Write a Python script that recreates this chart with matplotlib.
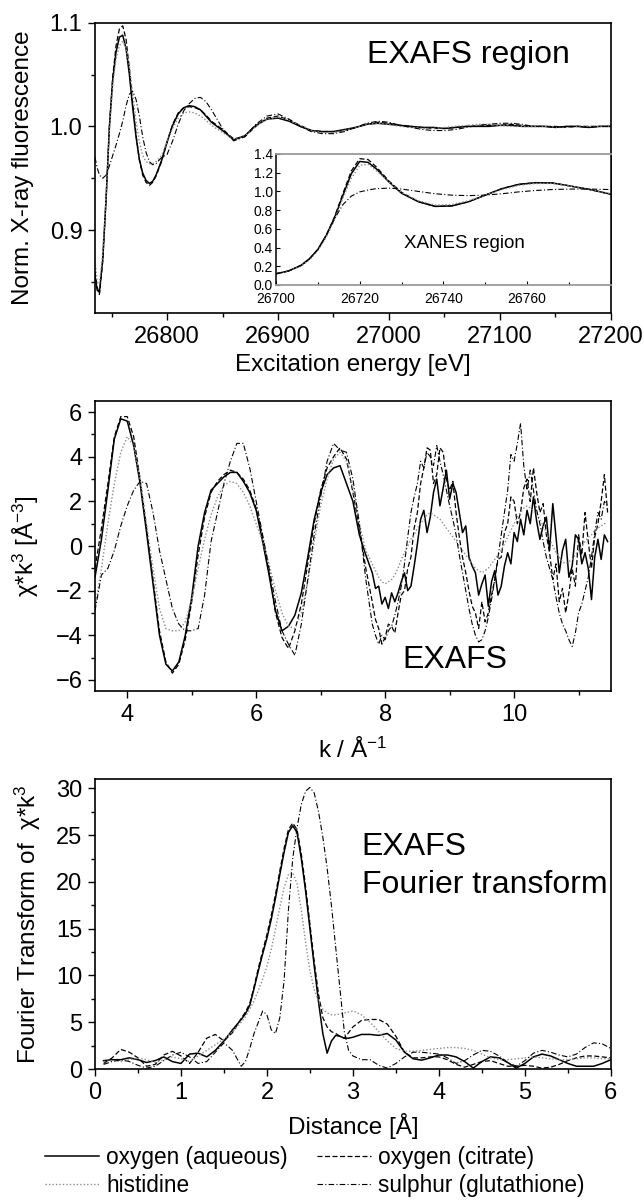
from __future__ import annotations

import matplotlib

matplotlib.use("Agg")
import matplotlib.pyplot as plt
from matplotlib.lines import Line2D
from matplotlib.ticker import FixedLocator, FormatStrFormatter, MultipleLocator

# --- top panel: normalised fluorescence vs excitation energy [eV] ---
energy = [
    26735, 26737, 26739, 26742, 26745, 26748, 26751, 26754, 26757, 26760,
    26763, 26766, 26769, 26772, 26775, 26778, 26781, 26784, 26787, 26790,
    26795, 26800, 26805, 26810, 26815, 26820, 26825, 26830, 26835, 26840,
    26850, 26860, 26870, 26880, 26890, 26900, 26910, 26920, 26930, 26940,
    26950, 26960, 26970, 26980, 26990, 27000, 27010, 27020, 27030, 27040,
    27050, 27060, 27070, 27080, 27090, 27100, 27110, 27120, 27130, 27140,
    27150, 27160, 27170, 27180, 27190, 27200,
]
fluo_aqueous = [
    0.856, 0.842, 0.840, 0.872, 0.930, 1.000, 1.045, 1.072, 1.086, 1.088,
    1.075, 1.050, 1.018, 0.990, 0.968, 0.955, 0.948, 0.945, 0.947, 0.953,
    0.967, 0.985, 1.001, 1.012, 1.018, 1.020, 1.019, 1.016, 1.010, 1.004,
    0.996, 0.987, 0.991, 1.001, 1.007, 1.008, 1.005, 1.000, 0.996, 0.995,
    0.995, 0.997, 0.999, 1.002, 1.003, 1.002, 1.001, 1.000, 0.999, 0.999,
    0.998, 0.999, 1.000, 1.000, 1.000, 1.001, 1.001, 1.000, 1.000, 1.000,
    0.999, 1.000, 1.000, 0.999, 1.000, 1.000,
]
fluo_citrate = [
    0.860, 0.845, 0.838, 0.870, 0.930, 1.000, 1.048, 1.078, 1.094, 1.097,
    1.084, 1.056, 1.022, 0.992, 0.968, 0.953, 0.946, 0.943, 0.946, 0.952,
    0.966, 0.985, 1.002, 1.013, 1.018, 1.019, 1.018, 1.016, 1.011, 1.005,
    0.997, 0.988, 0.990, 1.000, 1.008, 1.010, 1.006, 1.001, 0.996, 0.995,
    0.995, 0.996, 0.999, 1.002, 1.004, 1.003, 1.001, 1.000, 0.999, 0.998,
    0.998, 0.999, 1.000, 1.000, 1.001, 1.001, 1.002, 1.001, 1.000, 1.000,
    1.000, 0.999, 1.000, 1.000, 1.000, 1.000,
]
fluo_histidine = [
    0.870, 0.850, 0.848, 0.878, 0.932, 0.995, 1.040, 1.065, 1.078, 1.082,
    1.076, 1.058, 1.032, 1.005, 0.985, 0.972, 0.966, 0.964, 0.964, 0.966,
    0.972, 0.985, 0.998, 1.008, 1.013, 1.014, 1.013, 1.010, 1.006, 1.001,
    0.994, 0.988, 0.991, 1.000, 1.007, 1.009, 1.006, 1.001, 0.996, 0.994,
    0.994, 0.996, 0.999, 1.002, 1.003, 1.002, 1.000, 0.999, 0.998, 0.998,
    0.999, 1.000, 1.001, 1.002, 1.002, 1.001, 1.000, 1.000, 1.000, 1.000,
    0.999, 0.999, 1.000, 1.000, 1.000, 1.000,
]
fluo_glutathione = [
    0.970, 0.960, 0.953, 0.950, 0.953, 0.962, 0.972, 0.982, 0.993, 1.005,
    1.020, 1.031, 1.034, 1.026, 1.010, 0.990, 0.975, 0.966, 0.963, 0.964,
    0.970, 0.973, 0.986, 1.002, 1.015, 1.022, 1.027, 1.028, 1.024, 1.016,
    0.998, 0.986, 0.990, 1.002, 1.010, 1.012, 1.007, 1.000, 0.995, 0.993,
    0.993, 0.995, 0.999, 1.003, 1.005, 1.004, 1.001, 0.999, 0.997, 0.996,
    0.996, 0.997, 0.999, 1.001, 1.002, 1.003, 1.003, 1.002, 1.000, 1.000,
    0.999, 1.000, 1.000, 0.999, 1.000, 1.000,
]

# --- inset: XANES region ---
xanes_energy = [
    26700, 26703, 26706, 26708, 26710, 26712, 26714, 26716, 26718, 26720,
    26722, 26724, 26727, 26730, 26734, 26738, 26742, 26746, 26750, 26754,
    26758, 26762, 26766, 26770, 26775, 26780,
]
xanes_aqueous = [
    0.12, 0.15, 0.21, 0.28, 0.38, 0.53, 0.72, 0.96, 1.19, 1.32,
    1.31, 1.24, 1.10, 0.98, 0.89, 0.84, 0.845, 0.89, 0.96, 1.03,
    1.075, 1.093, 1.09, 1.06, 1.02, 0.97,
]
xanes_citrate = [
    0.12, 0.15, 0.21, 0.28, 0.38, 0.53, 0.73, 0.98, 1.22, 1.35,
    1.34, 1.26, 1.11, 0.99, 0.89, 0.84, 0.845, 0.89, 0.96, 1.03,
    1.075, 1.093, 1.09, 1.06, 1.02, 0.97,
]
xanes_histidine = [
    0.12, 0.15, 0.20, 0.27, 0.37, 0.51, 0.70, 0.93, 1.14, 1.28,
    1.29, 1.22, 1.10, 0.99, 0.90, 0.855, 0.86, 0.90, 0.96, 1.02,
    1.065, 1.085, 1.085, 1.06, 1.02, 0.975,
]
xanes_glutathione = [
    0.12, 0.15, 0.21, 0.28, 0.38, 0.53, 0.71, 0.86, 0.95, 0.995,
    1.015, 1.03, 1.035, 1.025, 1.0, 0.975, 0.96, 0.955, 0.96, 0.975,
    0.995, 1.01, 1.02, 1.025, 1.025, 1.02,
]
xanes_ticks = [26700, 26720, 26740, 26760]

# --- middle panel: chi*k^3 vs k (coarse below 7.8, finer above) ---
k_low = [
    3.5, 3.6, 3.7, 3.8, 3.9, 4.0, 4.1, 4.2, 4.3, 4.4,
    4.5, 4.6, 4.7, 4.8, 4.9, 5.0, 5.1, 5.2, 5.3, 5.4,
    5.5, 5.6, 5.7, 5.8, 5.9, 6.0, 6.1, 6.2, 6.3, 6.4,
    6.5, 6.6, 6.7, 6.8, 6.9, 7.0, 7.1, 7.2, 7.3, 7.4,
    7.5, 7.6, 7.7,
]
k_high = [
    7.8, 7.85, 7.9, 7.95, 8.0, 8.05, 8.1, 8.15, 8.2, 8.25,
    8.3, 8.35, 8.4, 8.45, 8.5, 8.55, 8.6, 8.65, 8.7, 8.75,
    8.8, 8.85, 8.9, 8.95, 9.0, 9.05, 9.1, 9.15, 9.2, 9.25,
    9.3, 9.35, 9.4, 9.45, 9.5, 9.55, 9.6, 9.65, 9.7, 9.75,
    9.8, 9.85, 9.9, 9.95, 10.0, 10.05, 10.1, 10.15, 10.2, 10.25,
    10.3, 10.35, 10.4, 10.45, 10.5, 10.55, 10.6, 10.65, 10.7, 10.75,
    10.8, 10.85, 10.9, 10.95, 11.0, 11.05, 11.1, 11.15, 11.2, 11.25,
    11.3, 11.35, 11.4, 11.45,
]
k_values = k_low + k_high
chi_aqueous = [
    -1.4, 0.3, 2.5, 4.8, 5.7, 5.6, 4.5, 2.8, 0.6, -1.7,
    -4.0, -5.3, -5.6, -5.2, -4.0, -2.3, 0.0, 1.5, 2.5, 2.8,
    3.1, 3.3, 3.3, 2.9, 2.4, 1.6, 0.2, -1.3, -2.9, -3.8,
    -3.6, -3.1, -2.1, -0.5, 1.2, 2.4, 3.2, 3.5, 3.6, 2.8,
    2.0, 0.5, -0.4,
    -1.2, -1.9, -1.8, -2.6, -2.3, -2.8, -2.1, -2.5, -2.1, -1.6,
    -1.2, -2.0, -1.8, -0.9, 0.1, 1.2, 1.6, 0.6, 1.3, 2.4,
    3.0, 1.8, 2.6, 3.4, 2.1, 2.8, 2.4, 1.5, 0.6, 0.9,
    -0.5, -0.9, -1.2, -2.2, -1.7, -1.3, -2.7, -1.6, -1.1, -2.2,
    -1.8, -0.9, -0.3, -0.8, 0.6, 0.2, 1.2, 0.5, 1.6, 1.0,
    2.2, 1.1, 0.3, 0.9, 1.3, -0.2, 1.9, 0.4, -1.2, -0.2,
    0.3, -1.4, -0.9, 0.5, 0.3, -0.8, -0.3, -1.0, -2.4, -0.5,
    0.3, -0.6, 0.5, 0.2,
]
chi_citrate = [
    -1.0, 0.8, 2.8, 4.9, 5.8, 5.8, 4.9, 3.0, 0.8, -1.5,
    -3.8, -5.2, -5.7, -5.3, -4.2, -2.5, -0.4, 1.3, 2.4, 2.9,
    3.2, 3.4, 3.3, 3.0, 2.5, 1.7, 0.4, -1.2, -3.0, -4.1,
    -4.6, -3.8, -2.6, -0.8, 1.0, 2.5, 3.5, 4.0, 4.4, 3.9,
    2.4, 0.8, -1.0,
    -2.5, -3.3, -3.7, -4.4, -4.1, -3.5, -3.6, -3.9, -3.0, -2.2,
    -2.0, -1.0, -0.5, 0.8, 1.5, 2.8, 3.5, 4.4, 4.3, 2.8,
    3.2, 4.4, 4.2, 3.0, 2.5, 2.9, 1.5, 0.4, -0.5, -1.2,
    -2.0, -2.7, -3.0, -3.7, -2.5, -3.4, -3.0, -2.2, -1.5, -0.6,
    -0.5, 0.6, 1.0, 2.2, 2.0, 1.0, 1.5, 2.6, 3.0, 2.0,
    3.5, 2.4, 1.5, 1.9, 0.5, -0.3, -1.5, -0.8, -2.5, -1.9,
    -3.0, -2.1, -1.0, -1.8, 0.5, -0.4, 1.5, 0.2, -1.0, 0.4,
    1.0, 2.0, 3.2, 1.5,
]
chi_histidine = [
    -2.8, -1.0, 1.0, 2.8, 4.2, 4.9, 4.5, 3.0, 1.0, -1.0,
    -2.8, -3.7, -3.8, -3.8, -3.4, -2.4, -1.0, 0.3, 1.4, 2.2,
    2.7, 2.9, 2.8, 2.4, 1.8, 1.0, 0.2, -0.8, -2.0, -3.0,
    -3.6, -3.7, -3.0, -1.6, 0.2, 1.8, 3.0, 3.9, 4.2, 3.8,
    2.6, 1.0, -0.2,
    -0.8, -1.1, -1.4, -1.6, -1.7, -1.6, -1.5, -1.3, -1.0, -0.6,
    -0.3, 0.0, 0.3, 0.5, 0.8, 1.0, 1.2, 1.4, 1.5, 1.4,
    1.3, 1.2, 1.0, 0.8, 0.6, 0.4, 0.2, 0.0, -0.2, -0.4,
    -0.6, -0.8, -1.0, -1.1, -1.2, -1.1, -1.0, -0.8, -0.6, -0.4,
    -0.2, 0.1, 0.4, 0.7, 1.0, 1.3, 1.5, 1.7, 1.8, 1.7,
    1.6, 1.4, 1.2, 0.9, 0.6, 0.3, 0.0, -0.3, -0.5, -0.7,
    -0.8, -0.7, -0.6, -0.4, -0.2, 0.0, 0.2, 0.4, 0.5, 0.7,
    0.8, 0.9, 1.0, 1.0,
]
chi_glutathione = [
    -2.9, -1.3, -1.0, -0.2, 0.9, 1.8, 2.5, 2.9, 2.8, 1.5,
    -0.2, -1.5, -2.8, -3.5, -3.8, -3.8, -3.7, -2.2, 0.2, 1.5,
    2.8, 3.8, 4.6, 4.6, 3.5, 2.0, 0.5, -1.0, -2.5, -3.8,
    -4.4, -4.9, -3.5, -1.5, 0.5, 2.2, 3.8, 4.6, 4.3, 4.2,
    3.0, 1.0, -1.5,
    -3.5, -4.0, -4.4, -4.0, -4.2, -3.8, -3.6, -3.1, -2.5, -1.8,
    -0.8, 0.4, 1.5, 2.2, 2.8, 3.8, 3.5, 4.2, 4.0, 3.6,
    4.5, 3.8, 3.2, 2.5, 1.8, 1.2, 0.5, -0.4, -1.2, -2.0,
    -2.8, -3.5, -4.0, -4.3, -4.2, -3.8, -3.2, -2.4, -1.5, -0.5,
    0.5, 1.5, 2.5, 4.1, 3.8, 4.6, 5.5, 3.6, 2.5, 3.4,
    2.5, 1.6, 1.0, 0.2, -0.5, -1.0, -1.5, -2.3, -3.0, -3.5,
    -3.8, -4.2, -4.5, -3.9, -3.0, -2.6, -2.0, -1.4, -0.5, 0.6,
    1.5, 1.2, 2.0, 1.8,
]

# --- bottom panel: Fourier transform vs distance [A] ---
distance = [
    0.1, 0.2, 0.3, 0.4, 0.5, 0.6, 0.7, 0.8, 0.9, 1.0,
    1.1, 1.2, 1.3, 1.4, 1.5, 1.6, 1.7, 1.75, 1.8, 1.85,
    1.9, 1.95, 2.0, 2.05, 2.1, 2.15, 2.2, 2.25, 2.3, 2.35,
    2.4, 2.45, 2.5, 2.55, 2.6, 2.65, 2.7, 2.75, 2.8, 2.85,
    2.9, 2.95, 3.0, 3.1, 3.2, 3.3, 3.4, 3.5, 3.6, 3.7,
    3.8, 3.9, 4.0, 4.1, 4.2, 4.3, 4.4, 4.5, 4.6, 4.7,
    4.8, 4.9, 5.0, 5.1, 5.2, 5.3, 5.4, 5.5, 5.6, 5.7,
    5.8, 5.9, 6.0,
]
ft_aqueous = [
    0.9, 1.0, 1.0, 1.2, 1.0, 0.7, 0.9, 1.3, 0.8, 0.6,
    1.6, 1.7, 1.3, 2.0, 3.0, 4.2, 5.3, 5.9, 6.8, 8.6,
    10.5, 12.3, 14.0, 16.0, 18.3, 20.8, 23.2, 25.3, 26.0, 25.3,
    22.5, 19.0, 15.0, 11.0, 7.2, 3.8, 1.7, 3.0, 3.6, 3.5,
    3.3, 3.3, 3.4, 3.7, 3.7, 3.6, 3.8, 3.1, 1.8, 1.1,
    0.95, 1.2, 1.5, 1.5, 1.3, 0.8, 0.1, 0.8, 1.3, 1.2,
    0.7, 0.1, 0.6, 1.3, 1.6, 1.4, 1.0, 0.6, 0.3, 0.3,
    0.3, 0.6, 1.0,
]
ft_citrate = [
    0.6, 1.2, 2.1, 1.8, 1.2, 0.3, 0.5, 1.5, 1.9, 1.4,
    0.6, 1.8, 3.3, 3.7, 3.0, 3.9, 5.4, 6.1, 7.0, 8.8,
    10.8, 12.6, 14.4, 16.4, 18.7, 21.2, 23.6, 25.6, 26.3, 25.6,
    23.0, 19.5, 15.5, 11.5, 8.0, 5.5, 4.5, 4.0, 3.8, 3.5,
    3.3, 3.9, 4.5, 5.2, 5.3, 5.3, 4.8, 3.5, 1.8, 1.2,
    1.2, 1.3, 1.3, 1.0, 0.5, 0.2, 0.5, 0.8, 0.9, 0.6,
    0.3, 0.3, 0.4, 0.3, 0.1, 0.2, 0.5, 0.9, 1.2, 1.4,
    1.4, 1.3, 1.2,
]
ft_histidine = [
    0.8, 0.9, 0.8, 1.0, 1.2, 1.0, 0.7, 1.0, 1.3, 1.1,
    0.8, 1.4, 2.0, 2.6, 3.2, 4.0, 5.0, 5.6, 6.4, 7.3,
    8.4, 9.6, 11.0, 12.8, 15.0, 17.3, 19.4, 20.8, 21.0, 19.8,
    17.0, 13.5, 10.5, 8.5, 7.2, 6.4, 6.0, 5.8, 5.8, 5.9,
    6.0, 6.1, 6.2, 5.8, 5.0, 4.0, 3.0, 2.2, 1.9, 1.9,
    2.0, 2.1, 2.2, 2.3, 2.3, 2.2, 2.0, 1.6, 1.2, 1.0,
    1.0, 1.1, 1.2, 1.3, 1.2, 1.1, 1.0, 1.0, 1.1, 1.2,
    1.2, 1.1, 1.1,
]
ft_glutathione = [
    0.5, 0.8, 1.0, 0.8, 0.4, 0.1, 0.3, 0.9, 1.5, 1.8,
    1.3, 0.6, 0.8, 1.8, 2.8, 2.0, 0.3, 0.8, 2.2, 3.8,
    5.0, 6.2, 5.8, 4.2, 3.8, 5.5, 9.5, 17.0, 22.5, 25.8,
    28.3, 29.7, 30.1, 29.5, 27.5, 24.8, 21.5, 17.5, 13.0, 8.5,
    4.0, 2.0, 1.4, 1.0, 1.0, 0.4, 0.1, 0.6, 1.3, 1.8,
    1.8, 1.7, 1.6, 1.2, 0.6, 0.9, 1.5, 2.0, 1.9, 1.4,
    0.7, 0.3, 0.9, 1.7, 2.0, 1.8, 1.5, 1.3, 1.6, 2.3,
    2.8, 2.7, 2.2,
]

series_labels = [
    "oxygen (aqueous)",
    "oxygen (citrate)",
    "histidine",
    "sulphur (glutathione)",
]

FONT = "Liberation Sans"
TICK_SIZE = 17
LABEL_SIZE = 17.5
NOTE_SIZE = 23
STYLES = [
    {"color": "black", "linewidth": 1.1, "linestyle": "-"},
    {"color": "black", "linewidth": 0.9, "linestyle": (0, (4, 2))},
    {"color": "#8c8c8c", "linewidth": 1.0, "linestyle": (0, (1, 1.5))},
    {"color": "black", "linewidth": 0.8, "linestyle": (0, (5, 2, 1, 2))},
]


def _style_axes(ax) -> None:
    for spine in ax.spines.values():
        spine.set_linewidth(1.2)
    ax.tick_params(which="both", direction="out", labelsize=TICK_SIZE, width=1.0)
    ax.tick_params(which="major", length=5, pad=4)
    ax.tick_params(which="minor", length=3)
    ax.tick_params(top=False, right=False)


def _plot_series(ax, x, ys) -> None:
    for y, style in zip(ys, STYLES):
        ax.plot(x, y, **style)


def main() -> int:
    plt.rcParams["font.family"] = FONT
    plt.rcParams["mathtext.fontset"] = "custom"
    plt.rcParams["mathtext.rm"] = FONT
    plt.rcParams["mathtext.it"] = FONT + ":italic"

    fig = plt.figure(figsize=(6.44, 12.02), dpi=100)

    # top: EXAFS region
    ax1 = fig.add_axes((0.1475, 0.7396, 0.801, 0.2415))
    _plot_series(ax1, energy, [fluo_aqueous, fluo_citrate, fluo_histidine, fluo_glutathione])
    ax1.set_xlim(26735, 27200)
    ax1.set_ylim(0.82, 1.1)
    ax1.xaxis.set_major_locator(MultipleLocator(100))
    ax1.xaxis.set_minor_locator(MultipleLocator(50))
    ax1.yaxis.set_major_locator(MultipleLocator(0.1))
    ax1.yaxis.set_minor_locator(MultipleLocator(0.05))
    _style_axes(ax1)
    ax1.set_xlabel("Excitation energy [eV]", fontsize=LABEL_SIZE)
    ax1.set_ylabel("Norm. X-ray fluorescence", fontsize=LABEL_SIZE)
    ax1.xaxis.set_label_coords(0.5, -0.14)
    ax1.yaxis.set_label_coords(-0.118, 0.5)
    ax1.text(0.723, 0.89, "EXAFS region", transform=ax1.transAxes,
             ha="center", va="center", fontsize=NOTE_SIZE)

    # inset: XANES region
    ins = fig.add_axes((0.4286, 0.7629, 0.520, 0.109))
    _plot_series(ins, xanes_energy,
                 [xanes_aqueous, xanes_citrate, xanes_histidine, xanes_glutathione])
    ins.set_xlim(26700, 26780)
    ins.set_ylim(0.0, 1.4)
    ins.xaxis.set_major_locator(FixedLocator(xanes_ticks))
    ins.xaxis.set_minor_locator(MultipleLocator(10))
    ins.yaxis.set_major_locator(MultipleLocator(0.2))
    for side in ("top", "bottom"):
        ins.spines[side].set_color("#9a9a9a")
        ins.spines[side].set_linewidth(1.3)
    for side in ("left", "right"):
        ins.spines[side].set_linewidth(1.1)
    ins.tick_params(which="both", direction="in", labelsize=10, width=0.8)
    ins.tick_params(which="major", length=3, pad=2)
    ins.tick_params(axis="x", which="major", pad=5)
    ins.tick_params(which="minor", length=2)
    ins.yaxis.set_major_formatter(FormatStrFormatter("%.1f"))
    ins.text(0.564, 0.32, "XANES region", transform=ins.transAxes,
             ha="center", va="center", fontsize=13.5)

    # middle: chi*k^3
    ax2 = fig.add_axes((0.1475, 0.4251, 0.801, 0.2413))
    _plot_series(ax2, k_values, [chi_aqueous, chi_citrate, chi_histidine, chi_glutathione])
    ax2.set_xlim(3.5, 11.5)
    ax2.set_ylim(-6.5, 6.5)
    ax2.xaxis.set_major_locator(MultipleLocator(2))
    ax2.xaxis.set_minor_locator(MultipleLocator(1))
    ax2.yaxis.set_major_locator(MultipleLocator(2))
    ax2.yaxis.set_minor_locator(MultipleLocator(1))
    _style_axes(ax2)
    ax2.set_xlabel(r"k / Å$^{\mathrm{-1}}$", fontsize=LABEL_SIZE)
    ax2.set_ylabel(r"χ*k$^{\mathrm{3}}$ [Å$^{\mathrm{-3}}$]", fontsize=LABEL_SIZE)
    ax2.xaxis.set_label_coords(0.5, -0.16)
    ax2.yaxis.set_label_coords(-0.105, 0.5)
    ax2.text(0.698, 0.107, "EXAFS", transform=ax2.transAxes,
             ha="center", va="center", fontsize=NOTE_SIZE)

    # bottom: Fourier transform
    ax3 = fig.add_axes((0.1475, 0.1106, 0.801, 0.2413))
    _plot_series(ax3, distance, [ft_aqueous, ft_citrate, ft_histidine, ft_glutathione])
    ax3.set_xlim(0, 6)
    ax3.set_ylim(0, 31)
    ax3.xaxis.set_major_locator(MultipleLocator(1))
    ax3.xaxis.set_minor_locator(MultipleLocator(0.5))
    ax3.yaxis.set_major_locator(MultipleLocator(5))
    ax3.yaxis.set_minor_locator(MultipleLocator(2.5))
    _style_axes(ax3)
    ax3.set_xlabel("Distance [Å]", fontsize=LABEL_SIZE)
    ax3.set_ylabel(r"Fourier Transform of  χ*k$^{\mathrm{3}}$", fontsize=LABEL_SIZE)
    ax3.xaxis.set_label_coords(0.5, -0.15)
    ax3.yaxis.set_label_coords(-0.1, 0.5)
    ax3.text(0.517, 0.766, "EXAFS", transform=ax3.transAxes,
             ha="left", va="center", fontsize=NOTE_SIZE)
    ax3.text(0.517, 0.634, "Fourier transform", transform=ax3.transAxes,
             ha="left", va="center", fontsize=NOTE_SIZE)

    handles = [Line2D([], [], **style) for style in STYLES]
    order = [0, 2, 1, 3]
    fig.legend(
        [handles[i] for i in order],
        [series_labels[i] for i in order],
        ncol=2,
        loc="lower left",
        bbox_to_anchor=(0.052, -0.005),
        frameon=False,
        fontsize=16.3,
        handlelength=2.4,
        handletextpad=0.3,
        columnspacing=1.3,
        labelspacing=0.2,
        borderpad=0.0,
    )

    fig.savefig("out.png", dpi=100)
    plt.close(fig)
    return 0


if __name__ == "__main__":
    raise SystemExit(main())
